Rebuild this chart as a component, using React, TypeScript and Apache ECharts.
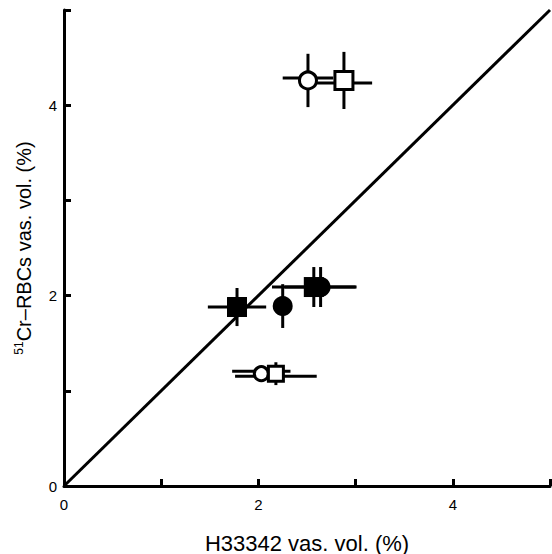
import React, { useEffect, useRef } from "react";
import * as echarts from "echarts";

// Open circles
const openCircleX = [2.51, 2.03];
const openCircleY = [4.26, 1.18];
const openCircleXErr = [0.26, 0.3];
const openCircleYErr = [0.28, 0.08];
// Open squares
const openSquareX = [2.88, 2.18];
const openSquareY = [4.26, 1.18];
const openSquareXErr = [0.29, 0.42];
const openSquareYErr = [0.3, 0.12];
// Filled circles
const filledCircleX = [2.25, 2.64];
const filledCircleY = [1.89, 2.09];
const filledCircleXErr = [0.08, 0.37];
const filledCircleYErr = [0.23, 0.21];
// Filled squares
const filledSquareX = [1.78, 2.57];
const filledSquareY = [1.88, 2.09];
const filledSquareXErr = [0.3, 0.43];
const filledSquareYErr = [0.2, 0.21];
// Identity line
const identityLine = [
  [0, 0],
  [5, 5],
];
const tickLabels = ["0", "2", "4"];

const FONT = "'Liberation Sans', Arial, sans-serif";

function build(xs: number[], ys: number[], xe: number[], ye: number[], g: number) {
  return xs.map((x, i) => [x, ys[i], xe[i], ye[i], g]);
}

const openCircleSizes = [17, 14];
const openSquareSizes = [18, 15];
// pixel offset of horizontal error bars per group (style only)
const barOffset = [-2.5, 2.5, 0, 0];

export default function App() {
  const ref = useRef<HTMLDivElement>(null);
  useEffect(() => {
    if (!ref.current) return;
    const chart = echarts.init(ref.current, undefined, { renderer: "svg" });
    const groups = [
      build(openCircleX, openCircleY, openCircleXErr, openCircleYErr, 0),
      build(openSquareX, openSquareY, openSquareXErr, openSquareYErr, 1),
      build(filledCircleX, filledCircleY, filledCircleXErr, filledCircleYErr, 2),
      build(filledSquareX, filledSquareY, filledSquareXErr, filledSquareYErr, 3),
    ];
    const allErr = ([] as number[][]).concat(...groups);
    const fmt = (v: number) => {
      const s = String(v);
      return tickLabels.includes(s) ? s : "";
    };
    chart.setOption({
      animation: false,
      grid: { left: 64, right: 2, top: 10, bottom: 68, outerBoundsMode: "none", containLabel: false },
      xAxis: {
        type: "value",
        min: 0,
        max: 5,
        interval: 1,
        splitLine: { show: false },
        axisLine: { lineStyle: { color: "#000", width: 3 } },
        axisTick: { inside: true, length: 7, lineStyle: { color: "#000", width: 3 } },
        axisLabel: { formatter: fmt, color: "#000", fontSize: 15, fontFamily: FONT, margin: 11 },
        name: "H33342 vas. vol. (%)",
        nameLocation: "middle",
        nameGap: 46,
        nameTextStyle: { color: "#000", fontSize: 22, fontFamily: FONT },
      },
      yAxis: {
        type: "value",
        min: 0,
        max: 5,
        interval: 1,
        splitLine: { show: false },
        axisLine: { lineStyle: { color: "#000", width: 3 } },
        axisTick: { inside: true, length: 7, lineStyle: { color: "#000", width: 3 } },
        axisLabel: { formatter: fmt, color: "#000", fontSize: 15, fontFamily: FONT, margin: 7 },
        name: "{sup|51}{main|Cr–RBCs vas. vol. (%)}",
        nameLocation: "middle",
        nameGap: 29,
        nameRotate: 90,
        nameTextStyle: {
          color: "#000",
          fontFamily: FONT,
          rich: {
            sup: { fontSize: 12, fontFamily: FONT, color: "#000", verticalAlign: "top", lineHeight: 22 },
            main: { fontSize: 20, fontFamily: FONT, color: "#000", lineHeight: 22 },
          },
        },
      },
      series: [
        {
          type: "line",
          data: identityLine,
          symbol: "none",
          lineStyle: { color: "#000", width: 3 },
          z: 1,
        },
        {
          type: "custom",
          data: allErr,
          encode: { x: 0, y: 1 },
          z: 2,
          renderItem: (params: any, api: any) => {
            const x = api.value(0);
            const y = api.value(1);
            const xe = api.value(2);
            const ye = api.value(3);
            const off = barOffset[api.value(4)] || 0;
            const l = api.coord([x - xe, y]);
            const r = api.coord([x + xe, y]);
            const t = api.coord([x, y + ye]);
            const b = api.coord([x, y - ye]);
            const st = { stroke: "#000", lineWidth: 3 };
            return {
              type: "group",
              children: [
                { type: "line", shape: { x1: l[0], y1: l[1] + off, x2: r[0], y2: r[1] + off }, style: st },
                { type: "line", shape: { x1: t[0], y1: t[1], x2: b[0], y2: b[1] }, style: st },
              ],
            };
          },
        },
        {
          type: "scatter",
          data: groups[0].map((d) => [d[0], d[1]]),
          symbol: "circle",
          symbolSize: (_v: any, p: any) => openCircleSizes[p.dataIndex],
          itemStyle: { color: "#fff", borderColor: "#000", borderWidth: 3, opacity: 1 },
          z: 3,
        },
        {
          type: "scatter",
          data: groups[1].map((d) => [d[0], d[1]]),
          symbol: "rect",
          symbolSize: (_v: any, p: any) => openSquareSizes[p.dataIndex],
          itemStyle: { color: "#fff", borderColor: "#000", borderWidth: 3, opacity: 1 },
          z: 3,
        },
        {
          type: "scatter",
          data: groups[2].map((d) => [d[0], d[1]]),
          symbol: "circle",
          symbolSize: 20,
          itemStyle: { color: "#000", opacity: 1 },
          z: 3,
        },
        {
          type: "scatter",
          data: groups[3].map((d) => [d[0], d[1]]),
          symbol: "rect",
          symbolSize: 20,
          itemStyle: { color: "#000", opacity: 1 },
          z: 3,
        },
      ],
    });
    return () => chart.dispose();
  }, []);
  return (
    <div
      ref={ref}
      style={{ position: "absolute", left: 0, top: 0, width: 552, height: 554, background: "#fff" }}
    />
  );
}
